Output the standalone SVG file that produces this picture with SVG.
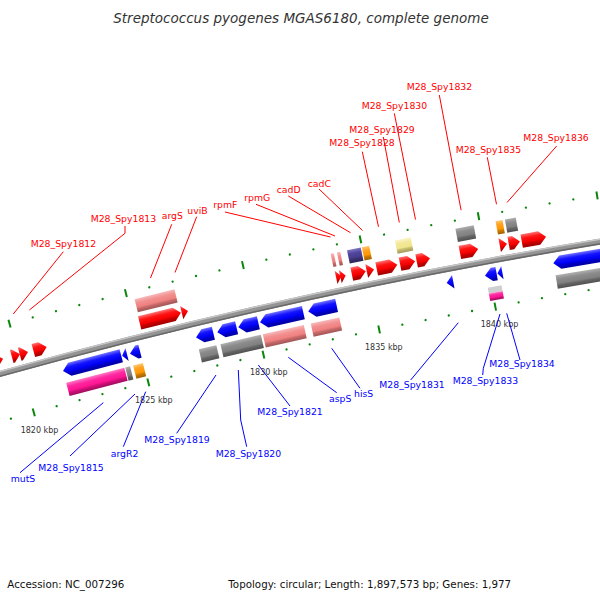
<svg xmlns="http://www.w3.org/2000/svg" width="600" height="600" viewBox="0 0 600 600">
<style>
text{font-family:"DejaVu Sans","Liberation Sans",sans-serif}
.lr{font-size:9.3px;fill:#f00}
.lb{font-size:9.3px;fill:#00f}
.kb{font-size:8px;fill:#333}
.cr{stroke:#f00;stroke-width:1;fill:none}
.cb{stroke:#00f;stroke-width:1;fill:none}
.tk{fill:#0a870a}
.red{fill:url(#gRed)}
.blu{fill:url(#gBlu)}
.pnk{fill:url(#gPnk)}
.mag{fill:url(#gMag)}
.gry{fill:url(#gGry)}
.org{fill:url(#gOrg)}
.pur{fill:url(#gPur)}
.kha{fill:url(#gKha)}
.lgr{fill:#cfcfcf}
</style>
<defs>
<linearGradient id="gRed" x2="0" y2="1"><stop offset="0" stop-color="#ff7272"/><stop offset=".3" stop-color="#ff1414"/><stop offset=".62" stop-color="#f40000"/><stop offset=".74" stop-color="#c80000"/><stop offset="1" stop-color="#a00000"/></linearGradient>
<linearGradient id="gBlu" x2="0" y2="1"><stop offset="0" stop-color="#7272ff"/><stop offset=".3" stop-color="#1414ff"/><stop offset=".62" stop-color="#0000f4"/><stop offset=".74" stop-color="#0000c8"/><stop offset="1" stop-color="#0000a0"/></linearGradient>
<linearGradient id="gPnk" x2="0" y2="1"><stop offset="0" stop-color="#f8b8b8"/><stop offset=".3" stop-color="#f29090"/><stop offset=".62" stop-color="#f08080"/><stop offset=".74" stop-color="#c86a6a"/><stop offset="1" stop-color="#a05555"/></linearGradient>
<linearGradient id="gMag" x2="0" y2="1"><stop offset="0" stop-color="#ff78c4"/><stop offset=".3" stop-color="#ff28a0"/><stop offset=".62" stop-color="#ff1493"/><stop offset=".74" stop-color="#d01078"/><stop offset="1" stop-color="#a00c5e"/></linearGradient>
<linearGradient id="gGry" x2="0" y2="1"><stop offset="0" stop-color="#b0b0b0"/><stop offset=".3" stop-color="#8c8c8c"/><stop offset=".62" stop-color="#808080"/><stop offset=".74" stop-color="#666"/><stop offset="1" stop-color="#505050"/></linearGradient>
<linearGradient id="gOrg" x2="0" y2="1"><stop offset="0" stop-color="#ffc870"/><stop offset=".3" stop-color="#ffa020"/><stop offset=".62" stop-color="#ff9900"/><stop offset=".74" stop-color="#d07d00"/><stop offset="1" stop-color="#a06000"/></linearGradient>
<linearGradient id="gPur" x2="0" y2="1"><stop offset="0" stop-color="#8078c0"/><stop offset=".3" stop-color="#5046a0"/><stop offset=".62" stop-color="#483d8b"/><stop offset=".74" stop-color="#3a3170"/><stop offset="1" stop-color="#2c2556"/></linearGradient>
<linearGradient id="gKha" x2="0" y2="1"><stop offset="0" stop-color="#faf4c8"/><stop offset=".3" stop-color="#f2e898"/><stop offset=".62" stop-color="#f0e68c"/><stop offset=".74" stop-color="#c8bf70"/><stop offset="1" stop-color="#a09858"/></linearGradient>
<g id="dt" class="tk"><circle cx="1534" cy="119" r="1.15"/><circle cx="1534" cy="211" r="1.15"/></g>
<g id="lt" class="tk"><rect x="1533" y="115" width="2" height="8"/><rect x="1533" y="207" width="2" height="8"/></g>
</defs>
<rect width="600" height="600" fill="#fff"/>

<text x="301" y="23" text-anchor="middle" font-style="italic" font-size="13.5" fill="#333">Streptococcus pyogenes MGAS6180, complete genome</text>

<g id="backbone" fill="none">
<circle cx="1534" cy="5900" r="5735" stroke="#949494" stroke-width="6"/>
<circle cx="1534" cy="5900" r="5737.3" stroke="#c6c6c6" stroke-width="1.5"/>
<circle cx="1534" cy="5900" r="5732.7" stroke="#686868" stroke-width="1.6"/>
</g>

<g id="ticks">
<use href="#dt" transform="rotate(-15.767 1534 5900)"/>
<use href="#dt" transform="rotate(-15.5285 1534 5900)"/>
<use href="#lt" transform="rotate(-15.29 1534 5900)"/>
<use href="#dt" transform="rotate(-15.0515 1534 5900)"/>
<use href="#dt" transform="rotate(-14.813 1534 5900)"/>
<use href="#dt" transform="rotate(-14.5745 1534 5900)"/>
<use href="#dt" transform="rotate(-14.336 1534 5900)"/>
<use href="#lt" transform="rotate(-14.0975 1534 5900)"/>
<use href="#dt" transform="rotate(-13.859 1534 5900)"/>
<use href="#dt" transform="rotate(-13.6205 1534 5900)"/>
<use href="#dt" transform="rotate(-13.382 1534 5900)"/>
<use href="#dt" transform="rotate(-13.1435 1534 5900)"/>
<use href="#lt" transform="rotate(-12.905 1534 5900)"/>
<use href="#dt" transform="rotate(-12.6665 1534 5900)"/>
<use href="#dt" transform="rotate(-12.428 1534 5900)"/>
<use href="#dt" transform="rotate(-12.1895 1534 5900)"/>
<use href="#dt" transform="rotate(-11.951 1534 5900)"/>
<use href="#lt" transform="rotate(-11.7125 1534 5900)"/>
<use href="#dt" transform="rotate(-11.474 1534 5900)"/>
<use href="#dt" transform="rotate(-11.2355 1534 5900)"/>
<use href="#dt" transform="rotate(-10.997 1534 5900)"/>
<use href="#dt" transform="rotate(-10.7585 1534 5900)"/>
<use href="#lt" transform="rotate(-10.52 1534 5900)"/>
<use href="#dt" transform="rotate(-10.2815 1534 5900)"/>
<use href="#dt" transform="rotate(-10.043 1534 5900)"/>
<use href="#dt" transform="rotate(-9.8045 1534 5900)"/>
<use href="#dt" transform="rotate(-9.566 1534 5900)"/>
<use href="#lt" transform="rotate(-9.3275 1534 5900)"/>
<use href="#dt" transform="rotate(-9.089 1534 5900)"/>
<text class="kb" x="20.7" y="433">1820 kbp</text>
<text class="kb" x="135" y="403">1825 kbp</text>
<text class="kb" x="250" y="374.5">1830 kbp</text>
<text class="kb" x="365" y="350">1835 kbp</text>
<text class="kb" x="480.7" y="326.7">1840 kbp</text>
</g>

<g id="connectors">
<path class="cr" d="M63.3 251.7L13.3 314"/>
<path class="cr" d="M125 226V233.3L29.3 310"/>
<path class="cr" d="M171.7 224.3L150.5 278"/>
<path class="cr" d="M196.7 216.7L175 272.5"/>
<path class="cr" d="M225 212L330.5 237"/>
<path class="cr" d="M256 204.3L335 236"/>
<path class="cr" d="M288.3 196L350.5 232.7"/>
<path class="cr" d="M319 189L362.5 230.5"/>
<path class="cr" d="M362.3 151.7L378.5 226.8"/>
<path class="cr" d="M383.3 137L399.3 222.5"/>
<path class="cr" d="M394.3 113.3L415.5 219.5"/>
<path class="cr" d="M439.3 95L461.1 210.2"/>
<path class="cr" d="M487.3 157.3L496.5 204.3"/>
<path class="cr" d="M556.7 146L507 202.5"/>
<path class="cb" d="M20 472.7L103.3 402.7"/>
<path class="cb" d="M70 456L135 394"/>
<path class="cb" d="M123.3 446.7L145.7 391.7"/>
<path class="cb" d="M176.7 433.3L216 375"/>
<path class="cb" d="M246.7 446.7L240.7 420L238.3 370"/>
<path class="cb" d="M290 406L258.3 365"/>
<path class="cb" d="M336.7 392.7L288.3 357.3"/>
<path class="cb" d="M360 388.3L331.7 348.3"/>
<path class="cb" d="M410.7 380L458.3 322.7"/>
<path class="cb" d="M482.7 375L483.3 368.3L500 314"/>
<path class="cb" d="M520 360L506.7 313.3"/>
</g>

<g id="gene-f1"><g transform="rotate(-15.564 1534 5900) translate(1534 165)"><path class="red" d="M-12 -20.5H5L12 -13.75L5 -7H-12Z"/></g></g>
<g id="gene-f2"><g transform="rotate(-15.312 1534 5900) translate(1534 165)"><path class="red" d="M-4.3 -20.5H-2.7L4.3 -13.75L-2.7 -7H-4.3Z"/></g></g>
<g id="gene-M28_Spy1812"><g transform="rotate(-15.23 1534 5900) translate(1534 165)"><path class="red" d="M-4.3 -20.5H-2.7L4.3 -13.75L-2.7 -7H-4.3Z"/></g><text class="lr" x="30.7" y="246.6">M28_Spy1812</text></g>
<g id="gene-M28_Spy1813"><g transform="rotate(-15.063 1534 5900) translate(1534 165)"><path class="red" d="M-6.9 -20.5H-0.1L6.9 -13.75L-0.1 -7H-6.9Z"/></g><text class="lr" x="90.7" y="221.6">M28_Spy1813</text></g>
<g id="gene-argS"><g transform="rotate(-13.825 1534 5900) translate(1534 165)"><path class="red" d="M-21.25 -20.5H14.25L21.25 -13.75L14.25 -7H-21.25Z"/><rect class="pnk" x="-20.5" y="-38" width="41" height="13.5"/></g><text class="lr" x="161.7" y="219.3">argS</text></g>
<g id="gene-uviB"><g transform="rotate(-13.573 1534 5900) translate(1534 165)"><path class="red" d="M-3.25 -20.5L3.25 -13.75L-3.25 -7Z"/></g><text class="lr" x="187.3" y="214">uviB</text></g>
<g id="gene-rpmF"><g transform="rotate(-12.0 1534 5900) translate(1534 165)"><path class="red" d="M-2.75 -20.5L2.75 -13.75L-2.75 -7Z"/><rect class="pnk" x="-3.2" y="-38" width="3.2" height="13.5"/></g><text class="lr" x="213.3" y="208.3">rpmF</text></g>
<g id="gene-rpmG"><g transform="rotate(-11.957 1534 5900) translate(1534 165)"><path class="red" d="M-2.75 -20.5L2.75 -13.75L-2.75 -7Z"/><rect class="pnk" x="-1.1" y="-38" width="3.4" height="13.5"/></g><text class="lr" x="244.3" y="200.8">rpmG</text></g>
<g id="gene-cadD"><g transform="rotate(-11.796 1534 5900) translate(1534 165)"><path class="red" d="M-7.15 -20.5H0.15L7.15 -13.75L0.15 -7H-7.15Z"/><rect class="pur" x="-7" y="-38" width="14" height="13.5"/></g><text class="lr" x="276.7" y="192.8">cadD</text></g>
<g id="gene-cadC"><g transform="rotate(-11.678 1534 5900) translate(1534 165)"><path class="red" d="M-3.75 -20.5H-3.25L3.75 -13.75L-3.25 -7H-3.75Z"/><rect class="org" x="-3.75" y="-38" width="7.5" height="13.5"/></g><text class="lr" x="307.7" y="186.7">cadC</text></g>
<g id="gene-M28_Spy1828"><g transform="rotate(-11.509 1534 5900) translate(1534 165)"><path class="red" d="M-10.5 -20.5H3.5L10.5 -13.75L3.5 -7H-10.5Z"/></g><text class="lr" x="329.3" y="146">M28_Spy1828</text></g>
<g id="gene-M28_Spy1829"><g transform="rotate(-11.3 1534 5900) translate(1534 165)"><path class="red" d="M-7.65 -20.5H0.65L7.65 -13.75L0.65 -7H-7.65Z"/><rect class="kha" x="-8" y="-38" width="16" height="13.5"/></g><text class="lr" x="349.3" y="132.7">M28_Spy1829</text></g>
<g id="gene-M28_Spy1830"><g transform="rotate(-11.14 1534 5900) translate(1534 165)"><path class="red" d="M-6.8 -20.5H-0.2L6.8 -13.75L-0.2 -7H-6.8Z"/></g><text class="lr" x="361.7" y="109.3">M28_Spy1830</text></g>
<g id="gene-M28_Spy1832"><g transform="rotate(-10.676 1534 5900) translate(1534 165)"><path class="red" d="M-9.3 -20.5H2.3L9.3 -13.75L2.3 -7H-9.3Z"/><rect class="gry" x="-9.3" y="-38" width="18.6" height="13.5"/></g><text class="lr" x="406.7" y="90">M28_Spy1832</text></g>
<g id="gene-M28_Spy1835"><g transform="rotate(-10.328 1534 5900) translate(1534 165)"><path class="red" d="M-3.7 -20.5H-3.3L3.7 -13.75L-3.3 -7H-3.7Z"/><rect class="org" x="-3.5" y="-38" width="7" height="13.5"/></g><text class="lr" x="455.7" y="152.7">M28_Spy1835</text></g>
<g id="gene-M28_Spy1836"><g transform="rotate(-10.217 1534 5900) translate(1534 165)"><path class="red" d="M-5.75 -20.5H-1.25L5.75 -13.75L-1.25 -7H-5.75Z"/><rect class="gry" x="-5.2" y="-38" width="11" height="13.5"/></g><text class="lr" x="523.3" y="140.7">M28_Spy1836</text></g>
<g id="gene-f3"><g transform="rotate(-10.019 1534 5900) translate(1534 165)"><path class="red" d="M-12.35 -20.5H5.35L12.35 -13.75L5.35 -7H-12.35Z"/></g></g>

<g id="gene-mutS"><g transform="rotate(-14.597 1534 5900) translate(1534 165)"><path class="blu" d="M-30.1 13.75L-23.1 7H30.1V20.5H-23.1Z"/><rect class="mag" x="-30" y="26" width="60" height="13.5"/></g><text class="lb" x="10.7" y="482">mutS</text></g>
<g id="gene-M28_Spy1815"><g transform="rotate(-14.261 1534 5900) translate(1534 165)"><path class="blu" d="M-2.5 13.75L2.5 7V20.5Z"/><rect class="gry" x="-2.5" y="26" width="5" height="13.5"/></g><text class="lb" x="38.3" y="470.8">M28_Spy1815</text></g>
<g id="gene-argR2"><g transform="rotate(-14.154 1534 5900) translate(1534 165)"><path class="blu" d="M-5.15 13.75L1.85 7H5.15V20.5H1.85Z"/><rect class="org" x="-5" y="26" width="10" height="13.5"/></g><text class="lb" x="110.7" y="456.7">argR2</text></g>
<g id="gene-M28_Spy1819"><g transform="rotate(-13.435 1534 5900) translate(1534 165)"><path class="blu" d="M-8.9 13.75L-1.9 7H8.9V20.5H-1.9Z"/><rect class="gry" x="-9" y="26" width="18" height="13.5"/></g><text class="lb" x="144.3" y="443.3">M28_Spy1819</text></g>
<g id="gene-M28_Spy1820"><g transform="rotate(-13.206 1534 5900) translate(1534 165)"><path class="blu" d="M-9.9 13.75L-2.9 7H9.9V20.5H-2.9Z"/></g><text class="lb" x="215.7" y="456.7">M28_Spy1820</text></g>
<g id="gene-M28_Spy1821"><g transform="rotate(-12.986 1534 5900) translate(1534 165)"><path class="blu" d="M-10.25 13.75L-3.25 7H10.25V20.5H-3.25Z"/></g><text class="lb" x="257.3" y="415">M28_Spy1821</text></g>
<g id="cog-1820-1821"><g transform="rotate(-13.094 1534 5900) translate(1534 165)"><rect class="gry" x="-20.75" y="26" width="41.5" height="13.5"/></g></g>
<g id="gene-aspS"><g transform="rotate(-12.644 1534 5900) translate(1534 165)"><path class="blu" d="M-22.2 13.75L-15.2 7H22.2V20.5H-15.2Z"/></g><g transform="rotate(-12.655 1534 5900) translate(1534 165)"><rect class="pnk" x="-21" y="26" width="42" height="13.5"/></g><text class="lb" x="329" y="401.7">aspS</text></g>
<g id="gene-hisS"><g transform="rotate(-12.226 1534 5900) translate(1534 165)"><path class="blu" d="M-14.5 13.75L-7.5 7H14.5V20.5H-7.5Z"/><rect class="pnk" x="-14.6" y="26" width="29.2" height="13.5"/></g><text class="lb" x="354" y="397.3">hisS</text></g>
<g id="gene-M28_Spy1831"><g transform="rotate(-10.922 1534 5900) translate(1534 165)"><path class="blu" d="M-3.35 13.75L3.35 7V20.5Z"/></g><text class="lb" x="379.3" y="388.3">M28_Spy1831</text></g>
<g id="gene-M28_Spy1833"><g transform="rotate(-10.506 1534 5900) translate(1534 165)"><path class="blu" d="M-5.9 13.75L1.1 7H5.9V20.5H1.1Z"/></g><text class="lb" x="452.7" y="384">M28_Spy1833</text></g>
<g id="gene-M28_Spy1834"><g transform="rotate(-10.413 1534 5900) translate(1534 165)"><path class="blu" d="M-2.5 13.75L2.5 7V20.5Z"/></g><text class="lb" x="489.3" y="366.7">M28_Spy1834</text></g>
<g id="cog-1833-1834"><g transform="rotate(-10.49 1534 5900) translate(1534 165)"><rect class="lgr" x="-7" y="26" width="14" height="6"/><rect class="mag" x="-7" y="32" width="14" height="7.5"/></g></g>
<g id="gene-r1"><g transform="rotate(-9.519 1534 5900) translate(1534 165)"><path class="blu" d="M-35 13.75L-28 7H35V20.5H-28Z"/></g><g transform="rotate(-9.537 1534 5900) translate(1534 165)"><rect class="gry" x="-33" y="26" width="66" height="13.5"/></g></g>

<text x="7.3" y="587.5" font-size="10.3" fill="#111">Accession: NC_007296</text>
<text x="228.3" y="587.5" font-size="10.3" fill="#111">Topology: circular; Length: 1,897,573 bp; Genes: 1,977</text>
</svg>
